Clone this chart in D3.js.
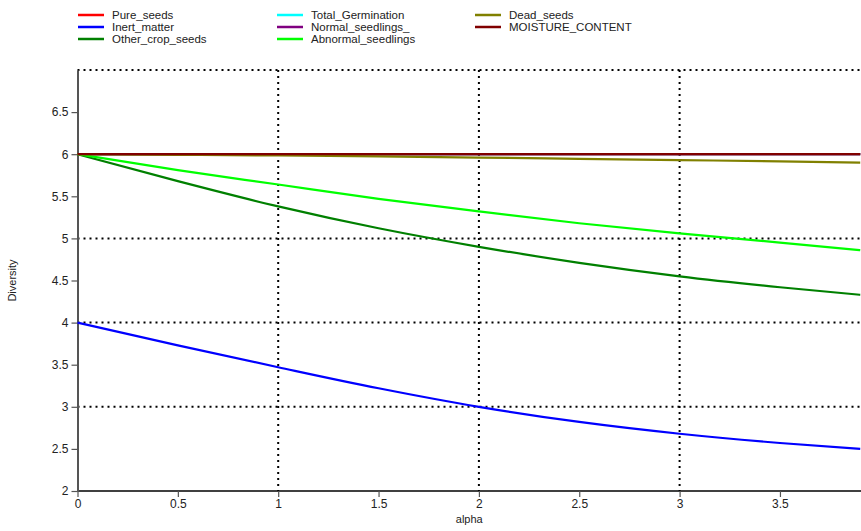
<!DOCTYPE html>
<html>
<head>
<meta charset="utf-8">
<script src="https://cdn.jsdelivr.net/npm/d3@7"></script>
<style>
  body { margin: 0; background: #fff; }
  svg { display: block; font-family: "Liberation Sans", Arial, sans-serif; }
</style>
</head>
<body>
<div id="chart"></div>
<script>
var alphas = [0, 0.5, 1, 1.5, 2, 2.5, 3, 3.5, 3.9];

var pureSeeds        = [6, 6, 6, 6, 6, 6, 6, 6, 6];
var inertMatter      = [4.0, 3.73, 3.47, 3.22, 3.0, 2.82, 2.68, 2.57, 2.5];
var otherCropSeeds   = [6.0, 5.68, 5.38, 5.12, 4.9, 4.71, 4.55, 4.42, 4.33];
var totalGermination = [6, 6, 6, 6, 6, 6, 6, 6, 6];
var normalSeedlings  = [6, 6, 6, 6, 6, 6, 6, 6, 6];
var abnormalSeedlings= [6.0, 5.81, 5.64, 5.47, 5.32, 5.18, 5.06, 4.95, 4.86];
var deadSeeds        = [6.0, 5.993, 5.985, 5.973, 5.96, 5.945, 5.93, 5.915, 5.9];
var moistureContent  = [6, 6, 6, 6, 6, 6, 6, 6, 6];

var seriesNames = ["Pure_seeds", "Inert_matter", "Other_crop_seeds", "Total_Germination",
                   "Normal_seedlings_", "Abnormal_seedlings", "Dead_seeds", "MOISTURE_CONTENT"];
var seriesValues = [pureSeeds, inertMatter, otherCropSeeds, totalGermination,
                    normalSeedlings, abnormalSeedlings, deadSeeds, moistureContent];
var seriesColors = ["#ff0000", "#0000ff", "#008000", "#00ffff",
                    "#800080", "#00ff00", "#808000", "#800000"];

var xTicks = [0, 0.5, 1, 1.5, 2, 2.5, 3, 3.5];
var yTicks = [2, 2.5, 3, 3.5, 4, 4.5, 5, 5.5, 6, 6.5];
var xGrid = [1, 2, 3];
var yGrid = [3, 4, 5, 7];

var W = 861, H = 531;
var plotLeft = 77.5, plotTop = 70, plotBottom = 491;

var svg = d3.select("#chart").append("svg")
  .attr("width", W)
  .attr("height", H);

var x = d3.scaleLinear().domain([0, 3.9]).range([plotLeft, plotLeft + 3.9 * 200.7]);
var y = d3.scaleLinear().domain([2, 7]).range([plotBottom, plotTop]);

// dotted grid
svg.append("g").selectAll("line")
  .data(yGrid).enter().append("line")
  .attr("x1", x(0)).attr("x2", W)
  .attr("y1", function(d) { return y(d); })
  .attr("y2", function(d) { return y(d); })
  .attr("stroke", "#000").attr("stroke-width", 2)
  .attr("stroke-dasharray", "2,4");

svg.append("g").selectAll("line")
  .data(xGrid).enter().append("line")
  .attr("x1", function(d) { return x(d); })
  .attr("x2", function(d) { return x(d); })
  .attr("y1", y(7)).attr("y2", y(2))
  .attr("stroke", "#000").attr("stroke-width", 2)
  .attr("stroke-dasharray", "2,4");

// axes
var xAxis = svg.append("g")
  .attr("transform", "translate(0," + plotBottom + ")")
  .call(d3.axisBottom(x).tickValues(xTicks).tickSize(6).tickSizeOuter(0)
    .tickFormat(d3.format("")));
xAxis.select(".domain").attr("stroke", "#000").attr("stroke-width", 1.5)
  .attr("d", "M" + x(0) + ",0H" + W);
xAxis.selectAll(".tick line").attr("stroke", "#555").attr("stroke-width", 1.2);
xAxis.selectAll("text").attr("font-size", 12).attr("fill", "#222")
  .attr("font-family", "Liberation Sans, Arial, sans-serif").attr("dy", "0.75em").attr("y", 8);

var yAxis = svg.append("g")
  .attr("transform", "translate(" + plotLeft + ",0)")
  .call(d3.axisLeft(y).tickValues(yTicks).tickSize(6).tickSizeOuter(0)
    .tickFormat(d3.format("")));
yAxis.select(".domain").attr("stroke", "#555").attr("stroke-width", 2);
yAxis.selectAll(".tick line").attr("stroke", "#555").attr("stroke-width", 1.2);
yAxis.selectAll("text").attr("font-size", 12).attr("fill", "#222")
  .attr("font-family", "Liberation Sans, Arial, sans-serif");

// axis titles
svg.append("text")
  .attr("x", (x(0) + W) / 2).attr("y", 523)
  .attr("text-anchor", "middle").attr("font-size", 11).attr("fill", "#222")
  .text("alpha");

svg.append("text")
  .attr("transform", "translate(16," + ((plotTop + plotBottom) / 2) + ") rotate(-90)")
  .attr("text-anchor", "middle").attr("font-size", 11).attr("fill", "#222")
  .text("Diversity");

// lines
var line = d3.line()
  .x(function(d, i) { return x(alphas[i]); })
  .y(function(d) { return y(d); })
  .curve(d3.curveMonotoneX);

svg.append("g").selectAll("path")
  .data(seriesValues).enter().append("path")
  .attr("d", line)
  .attr("fill", "none")
  .attr("stroke", function(d, i) { return seriesColors[i]; })
  .attr("stroke-width", 2.2);

// legend: three columns of three
var legendX = [78, 277, 475];
var legendY = [15, 27, 39];
var legend = svg.append("g").selectAll("g")
  .data(seriesNames).enter().append("g")
  .attr("transform", function(d, i) {
    return "translate(" + legendX[Math.floor(i / 3)] + "," + legendY[i % 3] + ")";
  });
legend.append("line")
  .attr("x1", 0).attr("x2", 26)
  .attr("stroke", function(d, i) { return seriesColors[i]; })
  .attr("stroke-width", 2.5);
legend.append("text")
  .attr("x", 34).attr("dy", "0.35em")
  .attr("font-size", 11.5).attr("fill", "#222")
  .text(function(d) { return d; });
</script>
</body>
</html>
